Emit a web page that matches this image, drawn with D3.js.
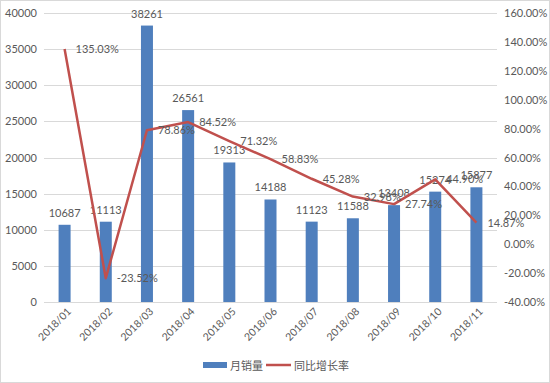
<!DOCTYPE html>
<html>
<head>
<meta charset="utf-8">
<script src="https://cdn.jsdelivr.net/npm/d3@7"></script>
<style>
  body { margin: 0; background: #fff; }
  text { font-family: Lato, "Noto Sans CJK SC", sans-serif; fill: #595959; }
</style>
</head>
<body>
<div id="chart"></div>
<script>
// Données
const months = ["2018/01", "2018/02", "2018/03", "2018/04", "2018/05", "2018/06",
    "2018/07", "2018/08", "2018/09", "2018/10", "2018/11"];
const sales = [10687, 11113, 38261, 26561, 19313, 14188, 11123, 11588, 13408, 15274, 15877];
const growth = [135.03, -23.52, 78.86, 84.52, 71.32, 58.83, 45.28, 32.98, 27.74, 44.90, 14.87];
const leftTicks = [0, 5000, 10000, 15000, 20000, 25000, 30000, 35000, 40000];
const rightTicks = [-40, -20, 0, 20, 40, 60, 80, 100, 120, 140, 160];

const W = 550, H = 383;
const margin = {top: 13, right: 53, bottom: 81, left: 44};
const width = W - margin.left - margin.right,
    height = H - margin.top - margin.bottom;

const svg = d3.select("#chart").append("svg")
    .attr("width", W).attr("height", H);

// cadre
svg.append("rect")
    .attr("x", 0.5).attr("y", 0.5).attr("width", W - 1).attr("height", H - 1)
    .attr("fill", "none").attr("stroke", "#d9d9d9");

const g = svg.append("g")
    .attr("transform", "translate(" + margin.left + "," + margin.top + ")");

const x = d3.scaleBand().domain(months).range([0, width]);
const yL = d3.scaleLinear().domain([0, 40000]).range([height, 0]);
const yR = d3.scaleLinear().domain([-40, 160]).range([height, 0]);

// grille
g.selectAll(".grid").data(leftTicks).join("line")
    .attr("x1", 0).attr("x2", width)
    .attr("y1", d => Math.round(yL(d)) + 0.5).attr("y2", d => Math.round(yL(d)) + 0.5)
    .attr("stroke", "#d9d9d9").attr("stroke-width", 1);

// axe gauche
const axL = g.append("g").call(d3.axisLeft(yL).tickValues(leftTicks).tickSize(0).tickPadding(7)
    .tickFormat(d3.format("d")));
axL.select(".domain").remove();
axL.selectAll("text").style("font-size", "11px").attr("fill", "#595959");

// axe droit
const axR = g.append("g").attr("transform", "translate(" + width + ",0)")
    .call(d3.axisRight(yR).tickValues(rightTicks).tickSize(0).tickPadding(7)
        .tickFormat(d => d.toFixed(2) + "%"));
axR.select(".domain").remove();
axR.selectAll("text").style("font-size", "11px").attr("fill", "#595959");

// axe x
const axX = g.append("g").attr("transform", "translate(0," + height + ")")
    .call(d3.axisBottom(x).tickSize(0).tickPadding(6));
axX.select(".domain").remove();
axX.selectAll("text")
    .style("font-size", "10.5px").attr("fill", "#595959")
    .attr("text-anchor", "end")
    .attr("dx", "-0.2em").attr("dy", "0.6em")
    .attr("transform", "rotate(-45)");

// barres
const bw = 12;
g.selectAll(".bar").data(sales).join("rect")
    .attr("x", (d, i) => x(months[i]) + x.bandwidth() / 2 - bw / 2)
    .attr("y", d => yL(d))
    .attr("width", bw)
    .attr("height", d => height - yL(d))
    .attr("fill", "#4f7fbd");

g.selectAll(".barlab").data(sales).join("text")
    .attr("x", (d, i) => x(months[i]) + x.bandwidth() / 2)
    .attr("y", d => yL(d) - 8)
    .attr("text-anchor", "middle")
    .style("font-size", "11px").attr("fill", "#404040")
    .text(d => d);

// ligne
const line = d3.line()
    .x((d, i) => x(months[i]) + x.bandwidth() / 2)
    .y(d => yR(d));
g.append("path").datum(growth)
    .attr("d", line)
    .attr("fill", "none").attr("stroke", "#c0504d").attr("stroke-width", 2.5)
    .attr("stroke-linejoin", "round");

g.selectAll(".linelab").data(growth).join("text")
    .attr("x", (d, i) => x(months[i]) + x.bandwidth() / 2 + 11)
    .attr("y", d => yR(d) + 4)
    .style("font-size", "11px").attr("fill", "#404040")
    .text(d => d.toFixed(2) + "%");

// légende
const leg = svg.append("g").attr("transform", "translate(203,365)");
leg.append("rect").attr("x", 0).attr("y", -3).attr("width", 24).attr("height", 6).attr("fill", "#4f7fbd");
leg.append("text").attr("x", 27).attr("y", 4.5).style("font-size", "11px")
    .style("font-family", "'Noto Sans CJK SC', sans-serif").text("月销量");
leg.append("line").attr("x1", 63).attr("x2", 88).attr("y1", 0).attr("y2", 0)
    .attr("stroke", "#c0504d").attr("stroke-width", 2.5);
leg.append("text").attr("x", 91).attr("y", 4.5).style("font-size", "11px")
    .style("font-family", "'Noto Sans CJK SC', sans-serif").text("同比增长率");
</script>
</body>
</html>
